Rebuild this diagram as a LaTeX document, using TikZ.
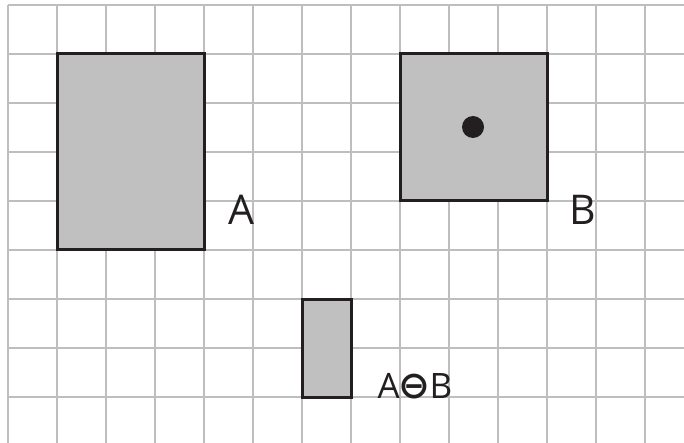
\documentclass[tikz,border=0pt]{standalone}
\usepackage{fontspec}
\setmainfont{Open Sans}
\newfontfamily\symfont{DejaVu Sans}
\definecolor{gridc}{RGB}{190,190,190}
\definecolor{fillc}{RGB}{192,192,192}
\definecolor{edgec}{RGB}{35,31,32}
\begin{document}
\begin{tikzpicture}[x=1pt,y=-1pt,
  setbox/.style={draw=edgec,fill=fillc,line width=3pt,inner sep=0pt,minimum width=#1},
  lbl/.style={inner sep=0pt,font=\fontsize{41}{41}\selectfont,text=edgec}]
\useasboundingbox (0,0) rectangle (684,443);
\fill[white] (0,0) rectangle (684,443);
\foreach \i in {0,...,13} \draw[gridc,line width=1.3pt] (8+49*\i,5) -- (8+49*\i,443);
\foreach \j in {0,...,8} \draw[gridc,line width=1.3pt] (8,5+49*\j) -- (684,5+49*\j);
\node[setbox=147pt,minimum height=196pt] (A) at (130.5,152) {};
\node[setbox=147pt,minimum height=147pt] (B) at (473.5,127.5) {};
\node[setbox=49pt,minimum height=98pt] (AB) at (326.5,348) {};
\fill[edgec] (473,127) circle (11pt);
\node[lbl] (la) at (241,210) {A};
\node[lbl] (lb) at (583,210) {B};
\node[lbl,font=\fontsize{35}{35}\selectfont] (lab) at (415,386) {A\kern-1pt{\symfont\bfseries\fontsize{38}{38}\selectfont ⊖}\kern-1pt B};
\end{tikzpicture}
\end{document}
